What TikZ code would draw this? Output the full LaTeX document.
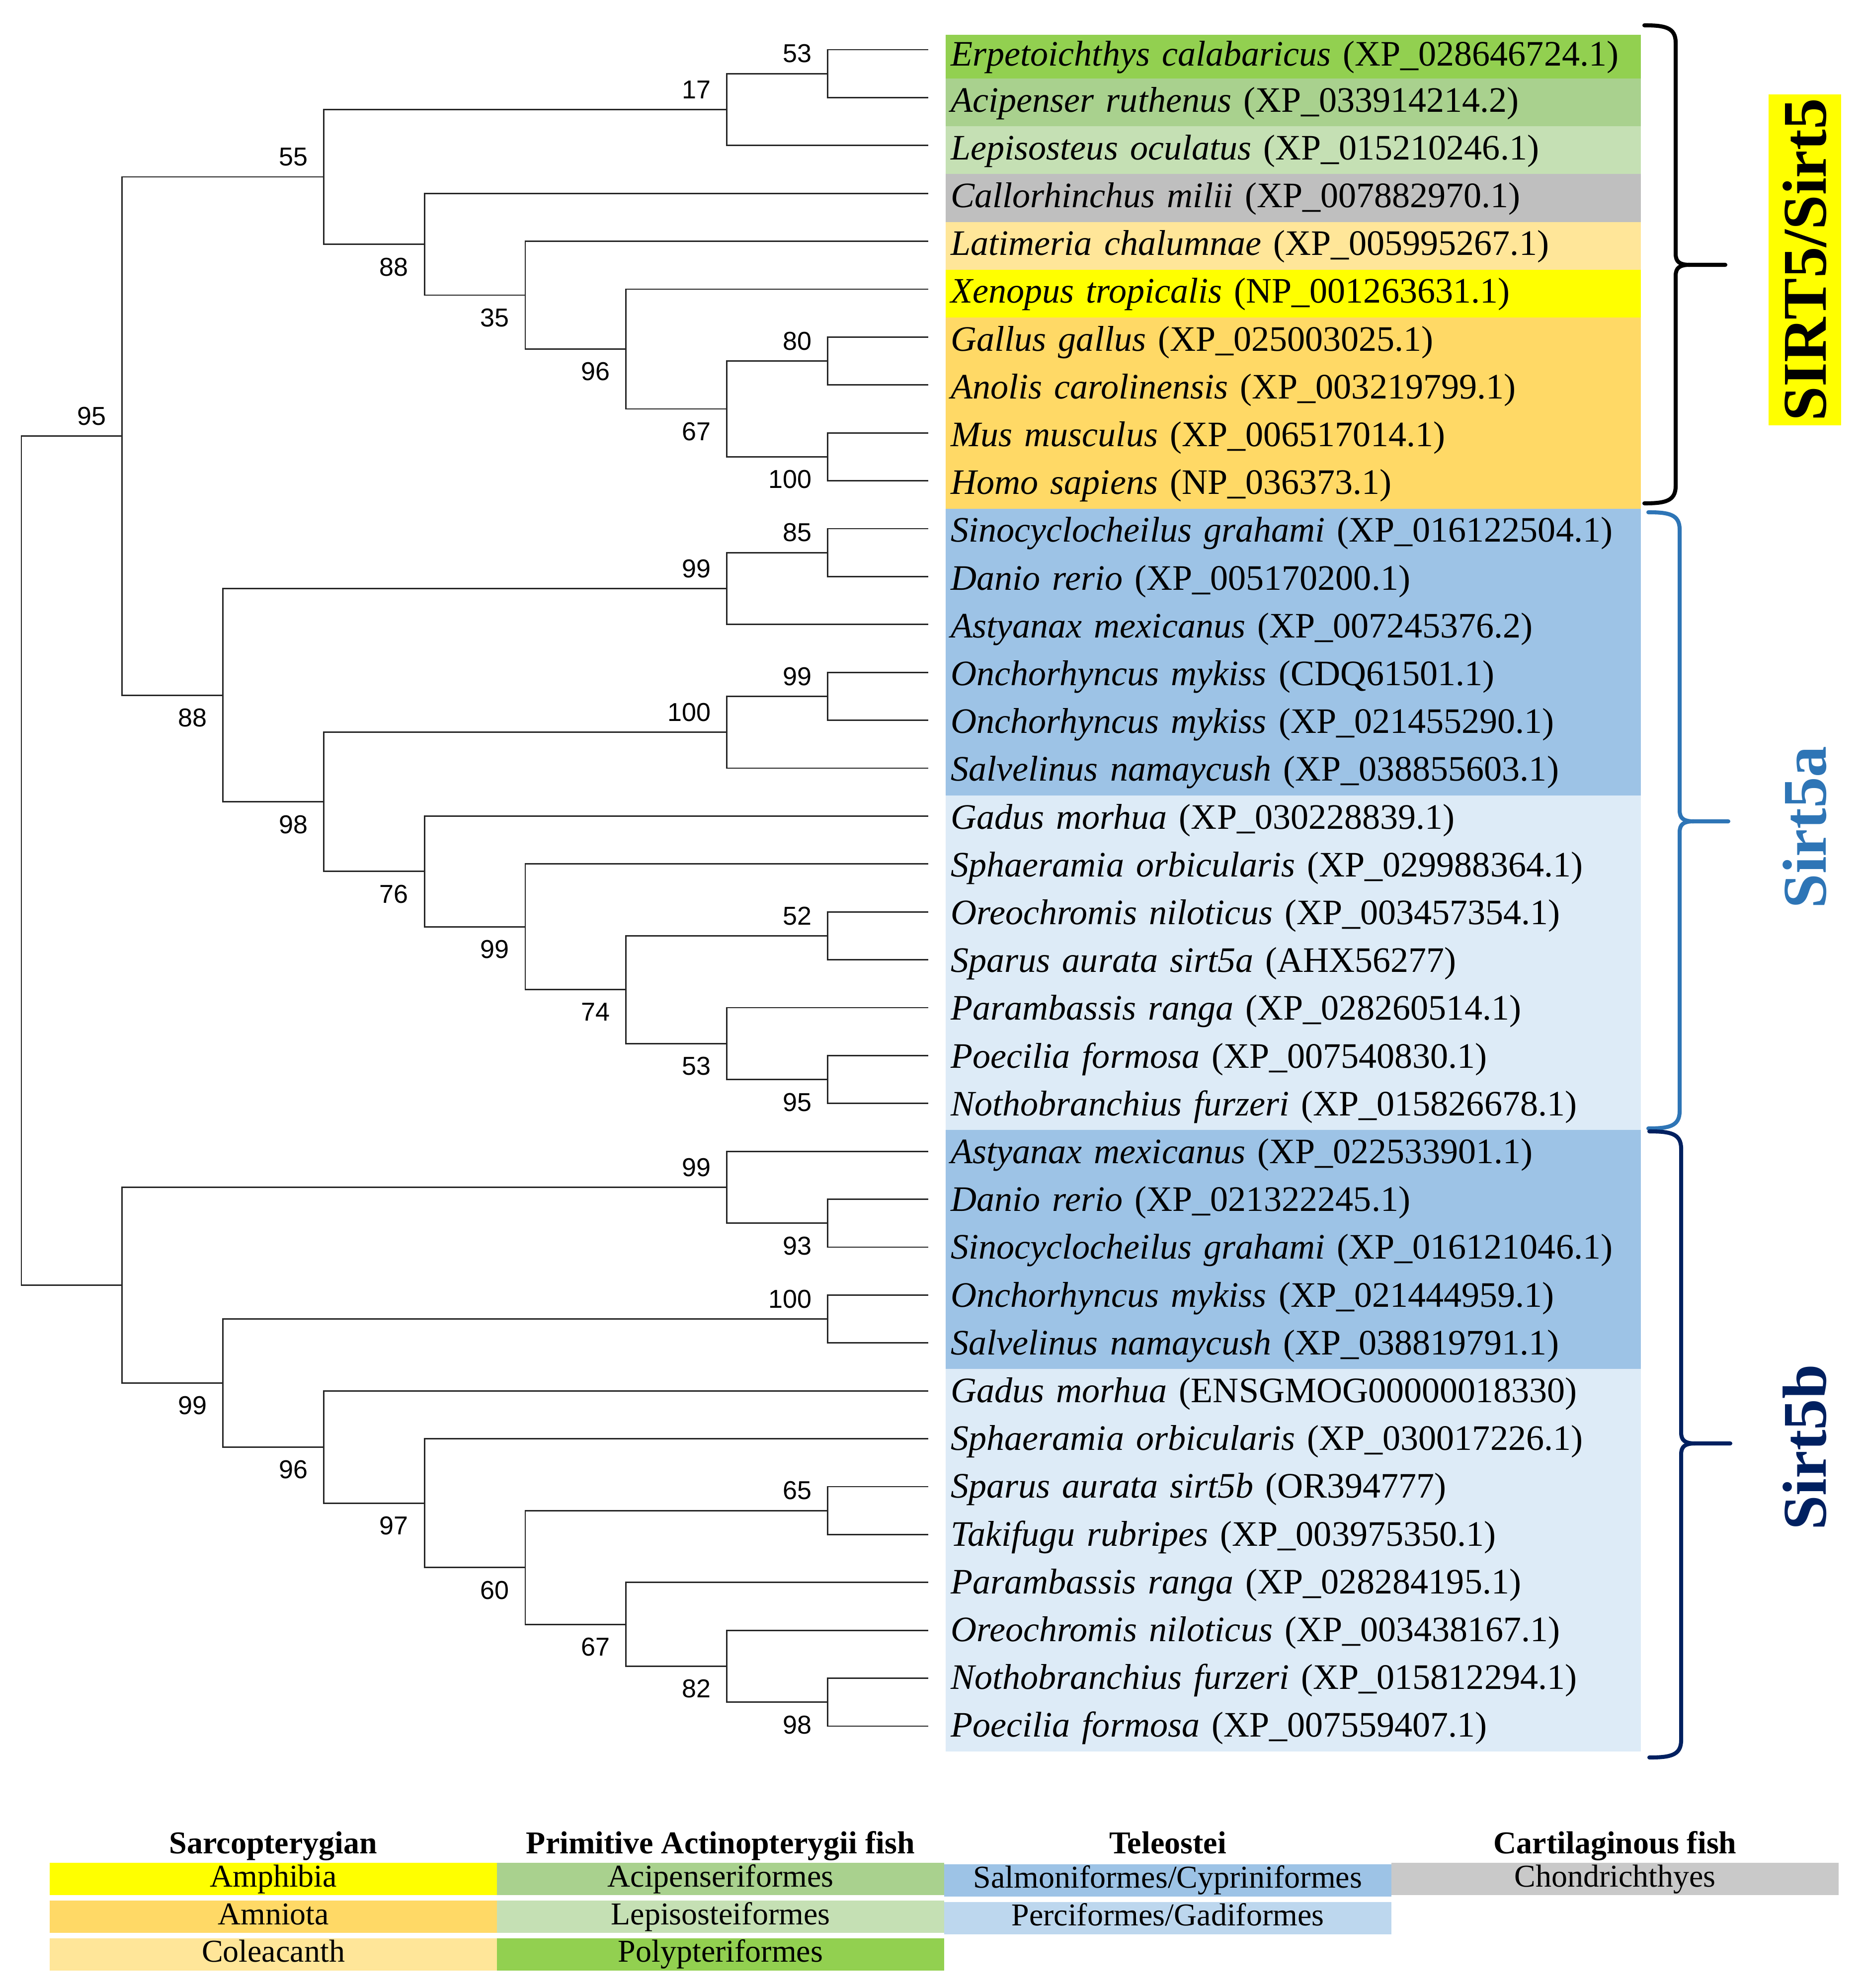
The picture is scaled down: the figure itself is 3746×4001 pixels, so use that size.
\documentclass[tikz,border=0pt]{standalone}
\usepackage{fontspec}
\setmainfont{Liberation Serif}
\setsansfont{Liberation Sans}
\usetikzlibrary{calc}

\definecolor{polyp}{HTML}{92D050}
\definecolor{acip}{HTML}{A9D18E}
\definecolor{lepis}{HTML}{C5E0B4}
\definecolor{chond}{HTML}{BFBFBF}
\definecolor{chondleg}{HTML}{C9C9C9}
\definecolor{coela}{HTML}{FFE699}
\definecolor{amphib}{HTML}{FFFF00}
\definecolor{amniota}{HTML}{FFD966}
\definecolor{salmo}{HTML}{9DC3E6}
\definecolor{perci}{HTML}{DDEBF7}
\definecolor{percileg}{HTML}{BDD7EE}
\definecolor{sirtablue}{HTML}{2E75B6}
\definecolor{sirtbnavy}{HTML}{002060}

\tikzset{
	branch/.style={line width=0.8pt, black!85},
	boot/.style={font=\sffamily\fontsize{14.8}{16}\selectfont, inner sep=0pt},
	boot above/.style={boot, anchor=south east, xshift=-9pt, yshift=6pt},
	boot below/.style={boot, anchor=north east, xshift=-9pt, yshift=-7.5pt},
	taxon/.style={anchor=west, inner xsep=3.1pt, inner ysep=0pt,
		text width=391.6pt, align=left, minimum height=27.37pt,
		text height=1.3em, text depth=0.22em,
		font=\fontsize{20.5}{24}\selectfont},
	brace line/.style={line width=2.3pt, line cap=round},
	sidelabel/.style={rotate=90, inner xsep=1.5pt, inner ysep=0pt,
		font=\bfseries\fontsize{35.6}{40}\selectfont},
	leghead/.style={anchor=base, inner sep=0pt,
		font=\bfseries\fontsize{18.2}{20}\selectfont},
	legbox/.style={minimum width=256.1pt, minimum height=18.5pt, inner sep=0pt,
		text height=1.0em, text depth=0.12em,
		font=\fontsize{18.2}{20}\selectfont}
}

% one clade: name, level, upper child, lower child
\newcommand{\clade}[4]{%
	\coordinate (m#1) at ($(#3)!0.5!(#4)$);
	\coordinate (#1) at (m#1 -| k#2);
	\draw[branch] (#1) |- (#3);
	\draw[branch] (#1) |- (#4);
}

% curly bracket: colour, top, middle, bottom, body x, hook x, tip x
\newcommand{\groupbrace}[7]{%
	\draw[brace line, #1] (#6,#2) .. controls ({#5-22},#2) and (#5,{#2+4}) .. (#5,{#2+35})
		-- (#5,{#3-22}) .. controls (#5,{#3-6}) and ({#5+8},#3) .. ({#5+28},#3) -- (#7,#3);
	\draw[brace line, #1] (#6,#4) .. controls ({#5-22},#4) and (#5,{#4-4}) .. (#5,{#4-35})
		-- (#5,{#3+22}) .. controls (#5,{#3+6}) and ({#5+8},#3) .. ({#5+28},#3);
}

\begin{document}
\begin{tikzpicture}[x=0.01cm, y=-0.01cm]
	\useasboundingbox (0,0) rectangle (3746,4001);

	% levels and leaf tips
	\foreach \k in {0,...,9}
		\coordinate (k\k) at ({43+202.8*\k}, 0);
	\foreach \i in {1,...,36}
		\coordinate (t\i) at (1868, {3.6+96.4*\i});

	% taxa
	\node[taxon, fill=polyp, minimum height=25.04pt] (l1) at (1902,114) {\textit{Erpetoichthys calabaricus} (XP\_028646724.1)};
	\node[taxon, fill=acip] (l2) at (1902,206.1) {\textit{Acipenser ruthenus} (XP\_033914214.2)};
	\node[taxon, fill=lepis] (l3) at (1902,302.3) {\textit{Lepisosteus oculatus} (XP\_015210246.1)};
	\node[taxon, fill=chond] (l4) at (1902,398.5) {\textit{Callorhinchus milii} (XP\_007882970.1)};
	\node[taxon, fill=coela] (l5) at (1902,494.7) {\textit{Latimeria chalumnae} (XP\_005995267.1)};
	\node[taxon, fill=amphib] (l6) at (1902,590.9) {\textit{Xenopus tropicalis} (NP\_001263631.1)};
	\node[taxon, fill=amniota] (l7) at (1902,687.1) {\textit{Gallus gallus} (XP\_025003025.1)};
	\node[taxon, fill=amniota] (l8) at (1902,783.3) {\textit{Anolis carolinensis} (XP\_003219799.1)};
	\node[taxon, fill=amniota] (l9) at (1902,879.5) {\textit{Mus musculus} (XP\_006517014.1)};
	\node[taxon, fill=amniota] (l10) at (1902,975.7) {\textit{Homo sapiens} (NP\_036373.1)};
	\node[taxon, fill=salmo] (l11) at (1902,1071.9) {\textit{Sinocyclocheilus grahami} (XP\_016122504.1)};
	\node[taxon, fill=salmo] (l12) at (1902,1168.1) {\textit{Danio rerio} (XP\_005170200.1)};
	\node[taxon, fill=salmo] (l13) at (1902,1264.3) {\textit{Astyanax mexicanus} (XP\_007245376.2)};
	\node[taxon, fill=salmo] (l14) at (1902,1360.5) {\textit{Onchorhyncus mykiss} (CDQ61501.1)};
	\node[taxon, fill=salmo] (l15) at (1902,1456.7) {\textit{Onchorhyncus mykiss} (XP\_021455290.1)};
	\node[taxon, fill=salmo] (l16) at (1902,1552.9) {\textit{Salvelinus namaycush} (XP\_038855603.1)};
	\node[taxon, fill=perci] (l17) at (1902,1649.1) {\textit{Gadus morhua} (XP\_030228839.1)};
	\node[taxon, fill=perci] (l18) at (1902,1745.3) {\textit{Sphaeramia orbicularis} (XP\_029988364.1)};
	\node[taxon, fill=perci] (l19) at (1902,1841.5) {\textit{Oreochromis niloticus} (XP\_003457354.1)};
	\node[taxon, fill=perci] (l20) at (1902,1937.7) {\textit{Sparus aurata sirt5a} (AHX56277)};
	\node[taxon, fill=perci] (l21) at (1902,2033.9) {\textit{Parambassis ranga} (XP\_028260514.1)};
	\node[taxon, fill=perci] (l22) at (1902,2130.1) {\textit{Poecilia formosa} (XP\_007540830.1)};
	\node[taxon, fill=perci] (l23) at (1902,2226.3) {\textit{Nothobranchius furzeri} (XP\_015826678.1)};
	\node[taxon, fill=salmo] (l24) at (1902,2322.5) {\textit{Astyanax mexicanus} (XP\_022533901.1)};
	\node[taxon, fill=salmo] (l25) at (1902,2418.7) {\textit{Danio rerio} (XP\_021322245.1)};
	\node[taxon, fill=salmo] (l26) at (1902,2514.9) {\textit{Sinocyclocheilus grahami} (XP\_016121046.1)};
	\node[taxon, fill=salmo] (l27) at (1902,2611.1) {\textit{Onchorhyncus mykiss} (XP\_021444959.1)};
	\node[taxon, fill=salmo] (l28) at (1902,2707.3) {\textit{Salvelinus namaycush} (XP\_038819791.1)};
	\node[taxon, fill=perci] (l29) at (1902,2803.5) {\textit{Gadus morhua} (ENSGMOG00000018330)};
	\node[taxon, fill=perci] (l30) at (1902,2899.7) {\textit{Sphaeramia orbicularis} (XP\_030017226.1)};
	\node[taxon, fill=perci] (l31) at (1902,2995.9) {\textit{Sparus aurata sirt5b} (OR394777)};
	\node[taxon, fill=perci] (l32) at (1902,3092.1) {\textit{Takifugu rubripes} (XP\_003975350.1)};
	\node[taxon, fill=perci] (l33) at (1902,3188.3) {\textit{Parambassis ranga} (XP\_028284195.1)};
	\node[taxon, fill=perci] (l34) at (1902,3284.5) {\textit{Oreochromis niloticus} (XP\_003438167.1)};
	\node[taxon, fill=perci] (l35) at (1902,3380.7) {\textit{Nothobranchius furzeri} (XP\_015812294.1)};
	\node[taxon, fill=perci] (l36) at (1902,3476.9) {\textit{Poecilia formosa} (XP\_007559407.1)};

	% SIRT5/Sirt5 clade
	\clade{n53}{8}{t1}{t2}
	\clade{n17}{7}{n53}{t3}
	\clade{n80}{8}{t7}{t8}
	\clade{n100}{8}{t9}{t10}
	\clade{n67}{7}{n80}{n100}
	\clade{n96}{6}{t6}{n67}
	\clade{n35}{5}{t5}{n96}
	\clade{n88a}{4}{t4}{n35}
	\clade{n55}{3}{n17}{n88a}
	% Sirt5a clade
	\clade{n85}{8}{t11}{t12}
	\clade{n99a}{7}{n85}{t13}
	\clade{n99b}{8}{t14}{t15}
	\clade{n100b}{7}{n99b}{t16}
	\clade{n52}{8}{t19}{t20}
	\clade{n95b}{8}{t22}{t23}
	\clade{n53b}{7}{t21}{n95b}
	\clade{n74}{6}{n52}{n53b}
	\clade{n99c}{5}{t18}{n74}
	\clade{n76}{4}{t17}{n99c}
	\clade{n98}{3}{n100b}{n76}
	\clade{n88b}{2}{n99a}{n98}
	\clade{n95}{1}{n55}{n88b}
	% Sirt5b clade
	\clade{n93}{8}{t25}{t26}
	\clade{n99d}{7}{t24}{n93}
	\clade{n100c}{8}{t27}{t28}
	\clade{n65}{8}{t31}{t32}
	\clade{n98c}{8}{t35}{t36}
	\clade{n82}{7}{t34}{n98c}
	\clade{n67b}{6}{t33}{n82}
	\clade{n60}{5}{n65}{n67b}
	\clade{n97}{4}{t30}{n60}
	\clade{n96b}{3}{t29}{n97}
	\clade{n99e}{2}{n100c}{n96b}
	\clade{nS}{1}{n99d}{n99e}
	\clade{root}{0}{n95}{nS}

	% bootstrap values
	\node[boot above] (bn95) at (n95) {95};
	\node[boot above] (bn55) at (n55) {55};
	\node[boot above] (bn17) at (n17) {17};
	\node[boot above] (bn53) at (n53) {53};
	\node[boot below] (bn88a) at (n88a) {88};
	\node[boot below] (bn35) at (n35) {35};
	\node[boot below] (bn96) at (n96) {96};
	\node[boot below] (bn67) at (n67) {67};
	\node[boot above] (bn80) at (n80) {80};
	\node[boot below] (bn100) at (n100) {100};
	\node[boot below] (bn88b) at (n88b) {88};
	\node[boot above] (bn99a) at (n99a) {99};
	\node[boot above] (bn85) at (n85) {85};
	\node[boot below] (bn98) at (n98) {98};
	\node[boot above] (bn100b) at (n100b) {100};
	\node[boot above] (bn99b) at (n99b) {99};
	\node[boot below] (bn76) at (n76) {76};
	\node[boot below] (bn99c) at (n99c) {99};
	\node[boot below] (bn74) at (n74) {74};
	\node[boot above] (bn52) at (n52) {52};
	\node[boot below] (bn53b) at (n53b) {53};
	\node[boot below] (bn95b) at (n95b) {95};
	\node[boot above] (bn99d) at (n99d) {99};
	\node[boot below] (bn93) at (n93) {93};
	\node[boot below] (bn99e) at (n99e) {99};
	\node[boot above] (bn100c) at (n100c) {100};
	\node[boot below] (bn96b) at (n96b) {96};
	\node[boot below] (bn97) at (n97) {97};
	\node[boot below] (bn60) at (n60) {60};
	\node[boot above] (bn65) at (n65) {65};
	\node[boot below] (bn67b) at (n67b) {67};
	\node[boot below] (bn82) at (n82) {82};
	\node[boot below] (bn98c) at (n98c) {98};

	% brackets and group names
	\groupbrace{black}{51}{533}{1013}{3372}{3309}{3472}
	\groupbrace{sirtablue}{1031}{1653}{2271}{3380}{3317}{3478}
	\groupbrace{sirtbnavy}{2277}{2905}{3537}{3383}{3319}{3482}
	\node[sidelabel, fill=amphib, minimum height=41.3pt, minimum width=189.2pt] (gsirt5) at (3632,523) {SIRT5/Sirt5};
	\node[sidelabel, text=sirtablue] (gsirt5a) at (3632,1665) {Sirt5a};
	\node[sidelabel, text=sirtbnavy] (gsirt5b) at (3632,2913) {Sirt5b};

	% legend
	\node[leghead] (hsarco) at (550,3730) {Sarcopterygian};
	\node[leghead] (hprim) at (1450,3730) {Primitive Actinopterygii fish};
	\node[leghead] (htele) at (2350,3730) {Teleostei};
	\node[leghead] (hcart) at (3250,3730) {Cartilaginous fish};
	\node[legbox, fill=amphib] (kamphib) at (550,3781.5) {Amphibia};
	\node[legbox, fill=amniota] (kamniota) at (550,3857.5) {Amniota};
	\node[legbox, fill=coela] (kcoela) at (550,3933) {Coleacanth};
	\node[legbox, fill=acip] (kacip) at (1450,3781.5) {Acipenseriformes};
	\node[legbox, fill=lepis] (klepis) at (1450,3857.5) {Lepisosteiformes};
	\node[legbox, fill=polyp] (kpolyp) at (1450,3933) {Polypteriformes};
	\node[legbox, fill=salmo] (ksalmo) at (2350,3784) {Salmoniformes/Cypriniformes};
	\node[legbox, fill=percileg] (kperci) at (2350,3860) {Perciformes/Gadiformes};
	\node[legbox, fill=chondleg] (kchond) at (3250,3781.5) {Chondrichthyes};
\end{tikzpicture}
\end{document}
